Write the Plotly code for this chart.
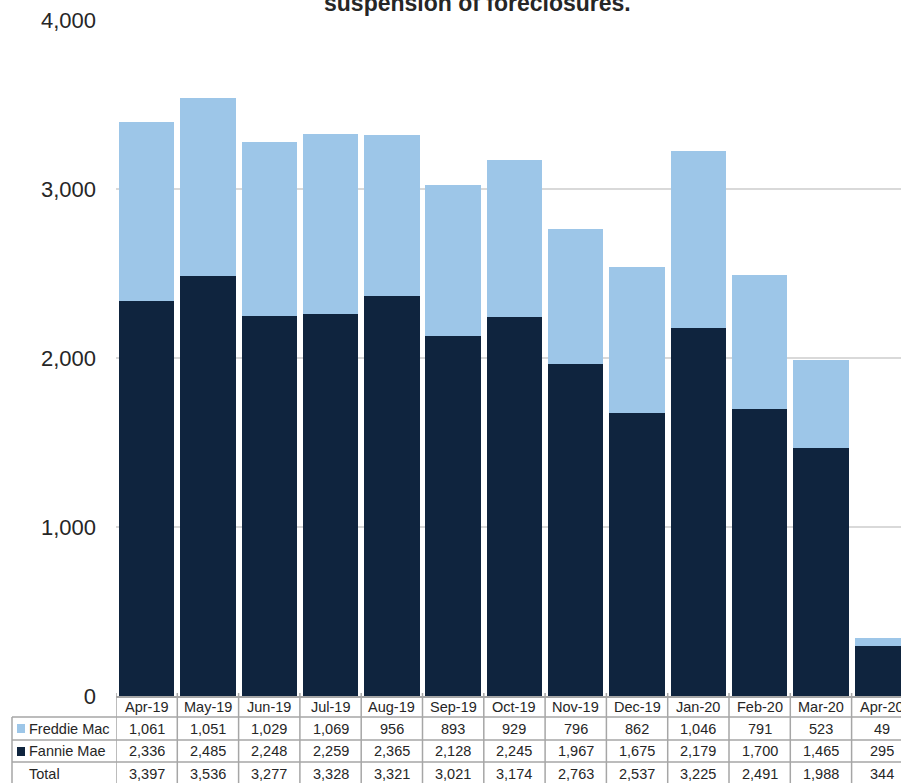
import plotly.graph_objects as go

months = ["Apr-19", "May-19", "Jun-19", "Jul-19", "Aug-19", "Sep-19", "Oct-19",
          "Nov-19", "Dec-19", "Jan-20", "Feb-20", "Mar-20", "Apr-20"]
freddie = [1061, 1051, 1029, 1069, 956, 893, 929, 796, 862, 1046, 791, 523, 49]
fannie = [2336, 2485, 2248, 2259, 2365, 2128, 2245, 1967, 1675, 2179, 1700, 1465, 295]
total = [3397, 3536, 3277, 3328, 3321, 3021, 3174, 2763, 2537, 3225, 2491, 1988, 344]
title_text = "suspension of foreclosures."

FANNIE_C = "#0f243e"
FREDDIE_C = "#9dc6e8"
GRID_C = "#a6a6a6"
TXT_C = "#262626"
FONT = "Liberation Sans, Arial, sans-serif"

W, H = 901, 783
ML, MR, MT, MB = 116, 0, 20, 87
PW = W - ML - MR
PH = H - MT - MB


def py(p):
    """pixel y (from top) -> paper y"""
    return (H - MB - p) / PH


def px(p):
    return (p - ML) / PW


fig = go.Figure()
fig.add_trace(go.Bar(x=months, y=fannie, name="Fannie Mae", marker_color=FANNIE_C,
                     marker_line_width=0))
fig.add_trace(go.Bar(x=months, y=freddie, name="Freddie Mac", marker_color=FREDDIE_C,
                     marker_line_width=0))

n = len(months)
shapes = []
annotations = []

# table geometry (pixels)
row_lines = [717, 740, 762]
table_bottom = 800
header_c, rows_c = 707, [728.5, 751, 773.5]

# vertical column lines
for i in range(n + 1):
    shapes.append(dict(type="line", xref="x", yref="paper", x0=i - 0.5, x1=i - 0.5,
                       y0=py(693), y1=py(table_bottom),
                       line=dict(color=GRID_C, width=1.5)))
# horizontal lines across data rows (label column + cells)
for r in row_lines:
    shapes.append(dict(type="line", xref="paper", yref="paper", x0=px(12), x1=1.0,
                       y0=py(r), y1=py(r), line=dict(color=GRID_C, width=1.5)))
# left border of label column
shapes.append(dict(type="line", xref="paper", yref="paper", x0=px(12), x1=px(12),
                   y0=py(717), y1=py(table_bottom), line=dict(color=GRID_C, width=1.5)))
# legend keys
for yc, col in [(728.5, FREDDIE_C), (751.5, FANNIE_C)]:
    shapes.append(dict(type="rect", xref="paper", yref="paper", x0=px(17), x1=px(25),
                       y0=py(yc - 4.5), y1=py(yc + 4.5), fillcolor=col, line_width=0))

# header month labels
for m in months:
    annotations.append(dict(x=m, xref="x", y=py(header_c), yref="paper", text=m,
                            showarrow=False, xanchor="center", yanchor="middle",
                            font=dict(size=14.5, color=TXT_C, family=FONT)))
# data cells
for vals, yc in zip([freddie, fannie, total], rows_c):
    for m, v in zip(months, vals):
        annotations.append(dict(x=m, xref="x", y=py(yc), yref="paper", text=f"{v:,}",
                                showarrow=False, xanchor="center", yanchor="middle",
                                font=dict(size=14.5, color=TXT_C, family=FONT)))
# row labels
for lab, yc in zip(["Freddie Mac", "Fannie Mae", "Total"], rows_c):
    annotations.append(dict(x=px(27), xref="paper", y=py(yc), yref="paper", text=lab,
                            showarrow=False, xanchor="left", yanchor="middle",
                            font=dict(size=14.5, color=TXT_C, family=FONT)))
# cut-off title
annotations.append(dict(x=px(477.5), xref="paper", y=py(3), yref="paper",
                        text=f"<b>{title_text}</b>", showarrow=False,
                        xanchor="center", yanchor="middle",
                        font=dict(size=23, color=TXT_C, family=FONT)))

fig.update_layout(
    width=W, height=H,
    margin=dict(l=ML, r=MR, t=MT, b=MB, pad=0),
    barmode="stack", bargap=0.095,
    paper_bgcolor="white", plot_bgcolor="white",
    showlegend=False,
    shapes=shapes, annotations=annotations,
    xaxis=dict(type="category", range=[-0.5, -0.5 + PW / 61.3], showticklabels=False,
               showgrid=False, showline=True, linecolor=GRID_C, linewidth=1.5,
               ticks="", zeroline=False),
    yaxis=dict(range=[0, 4000], tickvals=[0, 1000, 2000, 3000, 4000], tickformat=",",
               showgrid=True, gridcolor="#d9d9d9", gridwidth=1.5, zeroline=False,
               showline=False, ticks="", ticklabelstandoff=19,
               tickfont=dict(size=22, color=TXT_C, family=FONT)),
)

fig.write_html("out.html")
